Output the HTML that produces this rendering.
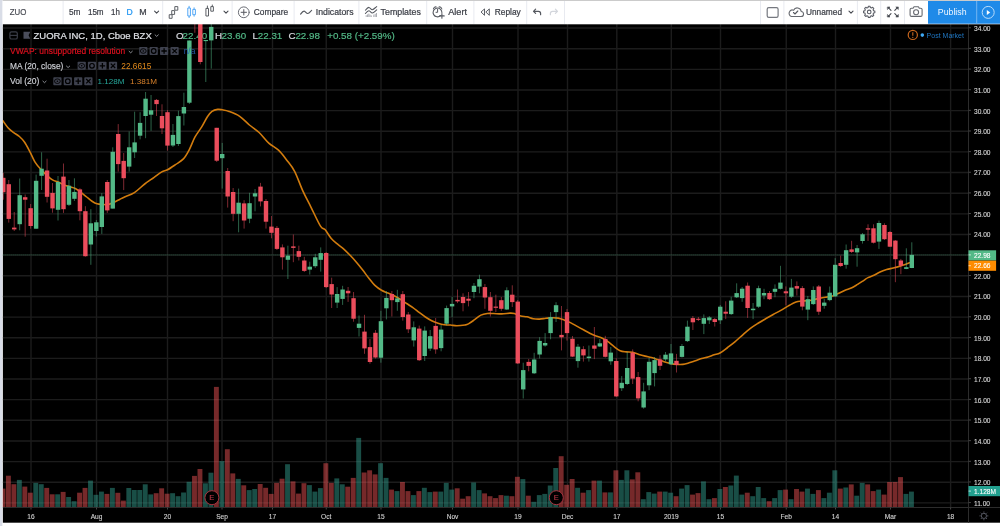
<!DOCTYPE html>
<html><head><meta charset="utf-8"><title>ZUO chart</title>
<style>
html,body{margin:0;padding:0;}
body{width:1000px;height:526px;overflow:hidden;position:relative;background:#ffffff;font-family:"Liberation Sans",Arial,sans-serif;}
svg text.pl{font-size:6.6px;fill:#d6d6d6;stroke:#d6d6d6;stroke-width:0.12px;font-family:"Liberation Sans",Arial,sans-serif;}
svg text.tl{font-size:6.6px;fill:#d0d0d0;stroke:#d0d0d0;stroke-width:0.12px;font-family:"Liberation Sans",Arial,sans-serif;}
#chart{position:absolute;left:0;top:0;display:block;}
</style></head><body>
<svg id="chart" width="1000" height="526" viewBox="0 0 1000 526">
<defs><clipPath id="cl"><rect x="2.6" y="24" width="965.9" height="483.5"/></clipPath></defs>
<rect x="2.6" y="24" width="997.4" height="498.70000000000005" fill="#000"/><line x1="2.6" y1="502.88" x2="968.5" y2="502.88" stroke="#1c1c1c" stroke-width="1.4"/><line x1="2.6" y1="482.24" x2="968.5" y2="482.24" stroke="#1c1c1c" stroke-width="1.4"/><line x1="2.6" y1="461.6" x2="968.5" y2="461.6" stroke="#1c1c1c" stroke-width="1.4"/><line x1="2.6" y1="440.95" x2="968.5" y2="440.95" stroke="#1c1c1c" stroke-width="1.4"/><line x1="2.6" y1="420.31" x2="968.5" y2="420.31" stroke="#1c1c1c" stroke-width="1.4"/><line x1="2.6" y1="399.66" x2="968.5" y2="399.66" stroke="#1c1c1c" stroke-width="1.4"/><line x1="2.6" y1="379.01" x2="968.5" y2="379.01" stroke="#1c1c1c" stroke-width="1.4"/><line x1="2.6" y1="358.37" x2="968.5" y2="358.37" stroke="#1c1c1c" stroke-width="1.4"/><line x1="2.6" y1="337.73" x2="968.5" y2="337.73" stroke="#1c1c1c" stroke-width="1.4"/><line x1="2.6" y1="317.08" x2="968.5" y2="317.08" stroke="#1c1c1c" stroke-width="1.4"/><line x1="2.6" y1="296.44" x2="968.5" y2="296.44" stroke="#1c1c1c" stroke-width="1.4"/><line x1="2.6" y1="275.79" x2="968.5" y2="275.79" stroke="#1c1c1c" stroke-width="1.4"/><line x1="2.6" y1="255.15" x2="968.5" y2="255.15" stroke="#1c1c1c" stroke-width="1.4"/><line x1="2.6" y1="234.5" x2="968.5" y2="234.5" stroke="#1c1c1c" stroke-width="1.4"/><line x1="2.6" y1="213.86" x2="968.5" y2="213.86" stroke="#1c1c1c" stroke-width="1.4"/><line x1="2.6" y1="193.21" x2="968.5" y2="193.21" stroke="#1c1c1c" stroke-width="1.4"/><line x1="2.6" y1="172.56" x2="968.5" y2="172.56" stroke="#1c1c1c" stroke-width="1.4"/><line x1="2.6" y1="151.92" x2="968.5" y2="151.92" stroke="#1c1c1c" stroke-width="1.4"/><line x1="2.6" y1="131.28" x2="968.5" y2="131.28" stroke="#1c1c1c" stroke-width="1.4"/><line x1="2.6" y1="110.63" x2="968.5" y2="110.63" stroke="#1c1c1c" stroke-width="1.4"/><line x1="2.6" y1="89.98" x2="968.5" y2="89.98" stroke="#1c1c1c" stroke-width="1.4"/><line x1="2.6" y1="69.34" x2="968.5" y2="69.34" stroke="#1c1c1c" stroke-width="1.4"/><line x1="2.6" y1="48.69" x2="968.5" y2="48.69" stroke="#1c1c1c" stroke-width="1.4"/><line x1="2.6" y1="28.05" x2="968.5" y2="28.05" stroke="#1c1c1c" stroke-width="1.4"/><line x1="31" y1="24" x2="31" y2="507.5" stroke="#1c1c1c" stroke-width="1.4"/><line x1="96.5" y1="24" x2="96.5" y2="507.5" stroke="#1c1c1c" stroke-width="1.4"/><line x1="167.5" y1="24" x2="167.5" y2="507.5" stroke="#1c1c1c" stroke-width="1.4"/><line x1="222" y1="24" x2="222" y2="507.5" stroke="#1c1c1c" stroke-width="1.4"/><line x1="272.5" y1="24" x2="272.5" y2="507.5" stroke="#1c1c1c" stroke-width="1.4"/><line x1="326.25" y1="24" x2="326.25" y2="507.5" stroke="#1c1c1c" stroke-width="1.4"/><line x1="381" y1="24" x2="381" y2="507.5" stroke="#1c1c1c" stroke-width="1.4"/><line x1="452.5" y1="24" x2="452.5" y2="507.5" stroke="#1c1c1c" stroke-width="1.4"/><line x1="518" y1="24" x2="518" y2="507.5" stroke="#1c1c1c" stroke-width="1.4"/><line x1="567.5" y1="24" x2="567.5" y2="507.5" stroke="#1c1c1c" stroke-width="1.4"/><line x1="616.8" y1="24" x2="616.8" y2="507.5" stroke="#1c1c1c" stroke-width="1.4"/><line x1="671.3" y1="24" x2="671.3" y2="507.5" stroke="#1c1c1c" stroke-width="1.4"/><line x1="720.5" y1="24" x2="720.5" y2="507.5" stroke="#1c1c1c" stroke-width="1.4"/><line x1="786.25" y1="24" x2="786.25" y2="507.5" stroke="#1c1c1c" stroke-width="1.4"/><line x1="835.5" y1="24" x2="835.5" y2="507.5" stroke="#1c1c1c" stroke-width="1.4"/><line x1="890.5" y1="24" x2="890.5" y2="507.5" stroke="#1c1c1c" stroke-width="1.4"/><line x1="950.6" y1="24" x2="950.6" y2="507.5" stroke="#1c1c1c" stroke-width="1.4"/><g><rect x="0.49" y="488.6" width="4.9" height="18.4" fill="rgba(236,82,84,0.5)"/><rect x="5.96" y="475.7" width="4.9" height="31.3" fill="rgba(236,82,84,0.5)"/><rect x="11.43" y="484.2" width="4.9" height="22.8" fill="rgba(236,82,84,0.5)"/><rect x="16.9" y="479.9" width="4.9" height="27.1" fill="rgba(50,156,140,0.5)"/><rect x="22.38" y="486.6" width="4.9" height="20.4" fill="rgba(236,82,84,0.5)"/><rect x="27.85" y="492.7" width="4.9" height="14.3" fill="rgba(236,82,84,0.5)"/><rect x="33.32" y="482.9" width="4.9" height="24.1" fill="rgba(50,156,140,0.5)"/><rect x="38.8" y="484.2" width="4.9" height="22.8" fill="rgba(50,156,140,0.5)"/><rect x="44.27" y="487.9" width="4.9" height="19.1" fill="rgba(236,82,84,0.5)"/><rect x="49.74" y="494.3" width="4.9" height="12.7" fill="rgba(236,82,84,0.5)"/><rect x="55.21" y="494.3" width="4.9" height="12.7" fill="rgba(50,156,140,0.5)"/><rect x="60.69" y="491.9" width="4.9" height="15.1" fill="rgba(236,82,84,0.5)"/><rect x="66.16" y="497" width="4.9" height="10" fill="rgba(50,156,140,0.5)"/><rect x="71.63" y="501.2" width="4.9" height="5.8" fill="rgba(50,156,140,0.5)"/><rect x="77.11" y="492.7" width="4.9" height="14.3" fill="rgba(236,82,84,0.5)"/><rect x="82.58" y="487.9" width="4.9" height="19.1" fill="rgba(236,82,84,0.5)"/><rect x="88.05" y="480.6" width="4.9" height="26.4" fill="rgba(50,156,140,0.5)"/><rect x="93.53" y="494.8" width="4.9" height="12.2" fill="rgba(50,156,140,0.5)"/><rect x="99" y="491.6" width="4.9" height="15.4" fill="rgba(50,156,140,0.5)"/><rect x="104.47" y="493.9" width="4.9" height="13.1" fill="rgba(236,82,84,0.5)"/><rect x="109.94" y="487.9" width="4.9" height="19.1" fill="rgba(50,156,140,0.5)"/><rect x="115.42" y="492.8" width="4.9" height="14.2" fill="rgba(236,82,84,0.5)"/><rect x="120.89" y="500.6" width="4.9" height="6.4" fill="rgba(236,82,84,0.5)"/><rect x="126.36" y="488" width="4.9" height="19" fill="rgba(50,156,140,0.5)"/><rect x="131.84" y="490" width="4.9" height="17" fill="rgba(50,156,140,0.5)"/><rect x="137.31" y="490" width="4.9" height="17" fill="rgba(50,156,140,0.5)"/><rect x="142.78" y="484.3" width="4.9" height="22.7" fill="rgba(50,156,140,0.5)"/><rect x="148.26" y="494.4" width="4.9" height="12.6" fill="rgba(50,156,140,0.5)"/><rect x="153.73" y="493.2" width="4.9" height="13.8" fill="rgba(236,82,84,0.5)"/><rect x="159.2" y="488.3" width="4.9" height="18.7" fill="rgba(236,82,84,0.5)"/><rect x="164.68" y="493.7" width="4.9" height="13.3" fill="rgba(236,82,84,0.5)"/><rect x="170.15" y="493.2" width="4.9" height="13.8" fill="rgba(50,156,140,0.5)"/><rect x="175.62" y="496.2" width="4.9" height="10.8" fill="rgba(50,156,140,0.5)"/><rect x="181.09" y="492.5" width="4.9" height="14.5" fill="rgba(50,156,140,0.5)"/><rect x="186.57" y="481.8" width="4.9" height="25.2" fill="rgba(50,156,140,0.5)"/><rect x="192.04" y="475.9" width="4.9" height="31.1" fill="rgba(236,82,84,0.5)"/><rect x="197.51" y="469" width="4.9" height="38" fill="rgba(236,82,84,0.5)"/><rect x="202.99" y="483.3" width="4.9" height="23.7" fill="rgba(50,156,140,0.5)"/><rect x="208.46" y="472.7" width="4.9" height="34.3" fill="rgba(50,156,140,0.5)"/><rect x="213.93" y="386.9" width="4.9" height="120.1" fill="rgba(236,82,84,0.5)"/><rect x="219.41" y="461.1" width="4.9" height="45.9" fill="rgba(50,156,140,0.5)"/><rect x="224.88" y="449.2" width="4.9" height="57.8" fill="rgba(236,82,84,0.5)"/><rect x="230.35" y="473.4" width="4.9" height="33.6" fill="rgba(236,82,84,0.5)"/><rect x="235.82" y="478.9" width="4.9" height="28.1" fill="rgba(50,156,140,0.5)"/><rect x="241.3" y="485.3" width="4.9" height="21.7" fill="rgba(236,82,84,0.5)"/><rect x="246.77" y="490.1" width="4.9" height="16.9" fill="rgba(50,156,140,0.5)"/><rect x="252.24" y="489" width="4.9" height="18" fill="rgba(50,156,140,0.5)"/><rect x="257.72" y="484" width="4.9" height="23" fill="rgba(236,82,84,0.5)"/><rect x="263.19" y="487.8" width="4.9" height="19.2" fill="rgba(236,82,84,0.5)"/><rect x="268.66" y="493.9" width="4.9" height="13.1" fill="rgba(236,82,84,0.5)"/><rect x="274.13" y="482.9" width="4.9" height="24.1" fill="rgba(236,82,84,0.5)"/><rect x="279.61" y="478.7" width="4.9" height="28.3" fill="rgba(236,82,84,0.5)"/><rect x="285.08" y="464.2" width="4.9" height="42.8" fill="rgba(50,156,140,0.5)"/><rect x="290.55" y="481.4" width="4.9" height="25.6" fill="rgba(236,82,84,0.5)"/><rect x="296.03" y="493.6" width="4.9" height="13.4" fill="rgba(236,82,84,0.5)"/><rect x="301.5" y="483.2" width="4.9" height="23.8" fill="rgba(236,82,84,0.5)"/><rect x="306.97" y="485.1" width="4.9" height="21.9" fill="rgba(50,156,140,0.5)"/><rect x="312.45" y="491.6" width="4.9" height="15.4" fill="rgba(50,156,140,0.5)"/><rect x="317.92" y="488.1" width="4.9" height="18.9" fill="rgba(50,156,140,0.5)"/><rect x="323.39" y="463.2" width="4.9" height="43.8" fill="rgba(236,82,84,0.5)"/><rect x="328.87" y="482.9" width="4.9" height="24.1" fill="rgba(236,82,84,0.5)"/><rect x="334.34" y="478.4" width="4.9" height="28.6" fill="rgba(50,156,140,0.5)"/><rect x="339.81" y="484.3" width="4.9" height="22.7" fill="rgba(50,156,140,0.5)"/><rect x="345.28" y="486.7" width="4.9" height="20.3" fill="rgba(236,82,84,0.5)"/><rect x="350.76" y="477.9" width="4.9" height="29.1" fill="rgba(236,82,84,0.5)"/><rect x="356.23" y="437.9" width="4.9" height="69.1" fill="rgba(50,156,140,0.5)"/><rect x="361.7" y="472.5" width="4.9" height="34.5" fill="rgba(236,82,84,0.5)"/><rect x="367.18" y="470.3" width="4.9" height="36.7" fill="rgba(236,82,84,0.5)"/><rect x="372.65" y="474.4" width="4.9" height="32.6" fill="rgba(236,82,84,0.5)"/><rect x="378.12" y="463.2" width="4.9" height="43.8" fill="rgba(50,156,140,0.5)"/><rect x="383.6" y="477.9" width="4.9" height="29.1" fill="rgba(50,156,140,0.5)"/><rect x="389.07" y="489.6" width="4.9" height="17.4" fill="rgba(236,82,84,0.5)"/><rect x="394.54" y="491.1" width="4.9" height="15.9" fill="rgba(50,156,140,0.5)"/><rect x="400.01" y="482" width="4.9" height="25" fill="rgba(236,82,84,0.5)"/><rect x="405.49" y="491.1" width="4.9" height="15.9" fill="rgba(236,82,84,0.5)"/><rect x="410.96" y="495.1" width="4.9" height="11.9" fill="rgba(50,156,140,0.5)"/><rect x="416.43" y="491.1" width="4.9" height="15.9" fill="rgba(236,82,84,0.5)"/><rect x="421.91" y="487.8" width="4.9" height="19.2" fill="rgba(50,156,140,0.5)"/><rect x="427.38" y="492.1" width="4.9" height="14.9" fill="rgba(50,156,140,0.5)"/><rect x="432.85" y="491.6" width="4.9" height="15.4" fill="rgba(236,82,84,0.5)"/><rect x="438.32" y="491.6" width="4.9" height="15.4" fill="rgba(50,156,140,0.5)"/><rect x="443.8" y="482.9" width="4.9" height="24.1" fill="rgba(50,156,140,0.5)"/><rect x="449.27" y="489.6" width="4.9" height="17.4" fill="rgba(50,156,140,0.5)"/><rect x="454.74" y="488.3" width="4.9" height="18.7" fill="rgba(236,82,84,0.5)"/><rect x="460.22" y="498.7" width="4.9" height="8.3" fill="rgba(236,82,84,0.5)"/><rect x="465.69" y="496.2" width="4.9" height="10.8" fill="rgba(236,82,84,0.5)"/><rect x="471.16" y="482.5" width="4.9" height="24.5" fill="rgba(50,156,140,0.5)"/><rect x="476.64" y="490.1" width="4.9" height="16.9" fill="rgba(50,156,140,0.5)"/><rect x="482.11" y="493.4" width="4.9" height="13.6" fill="rgba(236,82,84,0.5)"/><rect x="487.58" y="496.2" width="4.9" height="10.8" fill="rgba(236,82,84,0.5)"/><rect x="493.06" y="498.1" width="4.9" height="8.9" fill="rgba(236,82,84,0.5)"/><rect x="498.53" y="495.1" width="4.9" height="11.9" fill="rgba(236,82,84,0.5)"/><rect x="504" y="495.7" width="4.9" height="11.3" fill="rgba(50,156,140,0.5)"/><rect x="509.47" y="496.2" width="4.9" height="10.8" fill="rgba(236,82,84,0.5)"/><rect x="514.95" y="476.8" width="4.9" height="30.2" fill="rgba(236,82,84,0.5)"/><rect x="520.42" y="479.1" width="4.9" height="27.9" fill="rgba(50,156,140,0.5)"/><rect x="525.89" y="495.7" width="4.9" height="11.3" fill="rgba(236,82,84,0.5)"/><rect x="531.37" y="501.8" width="4.9" height="5.2" fill="rgba(50,156,140,0.5)"/><rect x="536.84" y="495.1" width="4.9" height="11.9" fill="rgba(50,156,140,0.5)"/><rect x="542.31" y="493.9" width="4.9" height="13.1" fill="rgba(50,156,140,0.5)"/><rect x="547.78" y="485.5" width="4.9" height="21.5" fill="rgba(50,156,140,0.5)"/><rect x="553.26" y="468" width="4.9" height="39" fill="rgba(50,156,140,0.5)"/><rect x="558.73" y="456.2" width="4.9" height="50.8" fill="rgba(236,82,84,0.5)"/><rect x="564.2" y="484.8" width="4.9" height="22.2" fill="rgba(236,82,84,0.5)"/><rect x="569.68" y="479" width="4.9" height="28" fill="rgba(236,82,84,0.5)"/><rect x="575.15" y="487.8" width="4.9" height="19.2" fill="rgba(50,156,140,0.5)"/><rect x="580.62" y="492.7" width="4.9" height="14.3" fill="rgba(236,82,84,0.5)"/><rect x="586.1" y="490.1" width="4.9" height="16.9" fill="rgba(50,156,140,0.5)"/><rect x="591.57" y="480.6" width="4.9" height="26.4" fill="rgba(236,82,84,0.5)"/><rect x="597.04" y="480.6" width="4.9" height="26.4" fill="rgba(50,156,140,0.5)"/><rect x="602.51" y="492.4" width="4.9" height="14.6" fill="rgba(236,82,84,0.5)"/><rect x="607.99" y="492.4" width="4.9" height="14.6" fill="rgba(50,156,140,0.5)"/><rect x="613.46" y="470.3" width="4.9" height="36.7" fill="rgba(236,82,84,0.5)"/><rect x="618.93" y="479.9" width="4.9" height="27.1" fill="rgba(50,156,140,0.5)"/><rect x="624.41" y="470.3" width="4.9" height="36.7" fill="rgba(50,156,140,0.5)"/><rect x="629.88" y="479.4" width="4.9" height="27.6" fill="rgba(236,82,84,0.5)"/><rect x="635.35" y="472.3" width="4.9" height="34.7" fill="rgba(236,82,84,0.5)"/><rect x="640.83" y="499.2" width="4.9" height="7.8" fill="rgba(50,156,140,0.5)"/><rect x="646.3" y="492.1" width="4.9" height="14.9" fill="rgba(50,156,140,0.5)"/><rect x="651.77" y="493.6" width="4.9" height="13.4" fill="rgba(50,156,140,0.5)"/><rect x="657.24" y="491.6" width="4.9" height="15.4" fill="rgba(236,82,84,0.5)"/><rect x="662.72" y="491.6" width="4.9" height="15.4" fill="rgba(50,156,140,0.5)"/><rect x="668.19" y="492.7" width="4.9" height="14.3" fill="rgba(50,156,140,0.5)"/><rect x="673.66" y="496.2" width="4.9" height="10.8" fill="rgba(236,82,84,0.5)"/><rect x="679.14" y="488.6" width="4.9" height="18.4" fill="rgba(50,156,140,0.5)"/><rect x="684.61" y="485.1" width="4.9" height="21.9" fill="rgba(50,156,140,0.5)"/><rect x="690.08" y="494.6" width="4.9" height="12.4" fill="rgba(236,82,84,0.5)"/><rect x="695.56" y="493.1" width="4.9" height="13.9" fill="rgba(236,82,84,0.5)"/><rect x="701.03" y="481.4" width="4.9" height="25.6" fill="rgba(50,156,140,0.5)"/><rect x="706.5" y="499.2" width="4.9" height="7.8" fill="rgba(50,156,140,0.5)"/><rect x="711.97" y="498.1" width="4.9" height="8.9" fill="rgba(236,82,84,0.5)"/><rect x="717.45" y="489" width="4.9" height="18" fill="rgba(50,156,140,0.5)"/><rect x="722.92" y="487" width="4.9" height="20" fill="rgba(236,82,84,0.5)"/><rect x="728.39" y="485.5" width="4.9" height="21.5" fill="rgba(50,156,140,0.5)"/><rect x="733.87" y="475.6" width="4.9" height="31.4" fill="rgba(50,156,140,0.5)"/><rect x="739.34" y="494.6" width="4.9" height="12.4" fill="rgba(50,156,140,0.5)"/><rect x="744.81" y="492.7" width="4.9" height="14.3" fill="rgba(236,82,84,0.5)"/><rect x="750.29" y="496.2" width="4.9" height="10.8" fill="rgba(50,156,140,0.5)"/><rect x="755.76" y="487" width="4.9" height="20" fill="rgba(50,156,140,0.5)"/><rect x="761.23" y="498.1" width="4.9" height="8.9" fill="rgba(50,156,140,0.5)"/><rect x="766.7" y="501.2" width="4.9" height="5.8" fill="rgba(236,82,84,0.5)"/><rect x="772.18" y="498.1" width="4.9" height="8.9" fill="rgba(50,156,140,0.5)"/><rect x="777.65" y="490.1" width="4.9" height="16.9" fill="rgba(50,156,140,0.5)"/><rect x="783.12" y="489.6" width="4.9" height="17.4" fill="rgba(236,82,84,0.5)"/><rect x="788.6" y="499.2" width="4.9" height="7.8" fill="rgba(50,156,140,0.5)"/><rect x="794.07" y="489" width="4.9" height="18" fill="rgba(236,82,84,0.5)"/><rect x="799.54" y="491.6" width="4.9" height="15.4" fill="rgba(236,82,84,0.5)"/><rect x="805.02" y="488.6" width="4.9" height="18.4" fill="rgba(50,156,140,0.5)"/><rect x="810.49" y="493.9" width="4.9" height="13.1" fill="rgba(50,156,140,0.5)"/><rect x="815.96" y="490.1" width="4.9" height="16.9" fill="rgba(236,82,84,0.5)"/><rect x="821.43" y="498.1" width="4.9" height="8.9" fill="rgba(50,156,140,0.5)"/><rect x="826.91" y="492.7" width="4.9" height="14.3" fill="rgba(50,156,140,0.5)"/><rect x="832.38" y="470.3" width="4.9" height="36.7" fill="rgba(50,156,140,0.5)"/><rect x="837.85" y="488.6" width="4.9" height="18.4" fill="rgba(236,82,84,0.5)"/><rect x="843.33" y="487.5" width="4.9" height="19.5" fill="rgba(50,156,140,0.5)"/><rect x="848.8" y="484.4" width="4.9" height="22.6" fill="rgba(236,82,84,0.5)"/><rect x="854.27" y="495.7" width="4.9" height="11.3" fill="rgba(50,156,140,0.5)"/><rect x="859.75" y="482.9" width="4.9" height="24.1" fill="rgba(50,156,140,0.5)"/><rect x="865.22" y="484.4" width="4.9" height="22.6" fill="rgba(236,82,84,0.5)"/><rect x="870.69" y="491.1" width="4.9" height="15.9" fill="rgba(236,82,84,0.5)"/><rect x="876.16" y="489.6" width="4.9" height="17.4" fill="rgba(50,156,140,0.5)"/><rect x="881.64" y="494.6" width="4.9" height="12.4" fill="rgba(236,82,84,0.5)"/><rect x="887.11" y="482" width="4.9" height="25" fill="rgba(236,82,84,0.5)"/><rect x="892.58" y="482" width="4.9" height="25" fill="rgba(236,82,84,0.5)"/><rect x="898.06" y="477.1" width="4.9" height="29.9" fill="rgba(236,82,84,0.5)"/><rect x="903.53" y="493.9" width="4.9" height="13.1" fill="rgba(50,156,140,0.5)"/><rect x="909" y="491.6" width="4.9" height="15.4" fill="rgba(50,156,140,0.5)"/></g><circle cx="211.9" cy="497.7" r="7" fill="#000" stroke="#a8333f" stroke-width="1"/><text x="211.9" y="499.8" font-size="7.6" fill="#c23a4b" stroke="#c23a4b" stroke-width="0.1" text-anchor="middle" font-family="Liberation Sans, sans-serif">E</text><circle cx="556.3" cy="497.7" r="7" fill="#000" stroke="#a8333f" stroke-width="1"/><text x="556.3" y="499.8" font-size="7.6" fill="#c23a4b" stroke="#c23a4b" stroke-width="0.1" text-anchor="middle" font-family="Liberation Sans, sans-serif">E</text><line x1="2.6" y1="254.9" x2="968.5" y2="254.9" stroke="#53b987" stroke-width="1" stroke-dasharray="1 1" opacity="0.5"/><path d="M2.7 120.5 C3.58 121.72 6.17 125.78 8 127.8 C9.83 129.82 11.8 131.15 13.7 132.6 C15.6 134.05 17.58 134.9 19.4 136.5 C21.22 138.1 22.88 139.73 24.6 142.2 C26.32 144.67 27.9 147.88 29.7 151.3 C31.5 154.72 33.5 159.65 35.4 162.7 C37.3 165.75 39.2 167.5 41.1 169.6 C43 171.7 44.9 173.58 46.8 175.3 C48.7 177.02 50.6 178.77 52.5 179.9 C54.4 181.03 56.3 181.27 58.2 182.1 C60.1 182.93 62 184.13 63.9 184.9 C65.8 185.67 67.7 186.1 69.6 186.7 C71.5 187.3 73.4 187.55 75.3 188.5 C77.2 189.45 79.1 190.98 81 192.4 C82.9 193.82 84.8 195.48 86.7 197 C88.6 198.52 90.68 200.37 92.4 201.5 C94.12 202.63 95.28 203.3 97 203.8 C98.72 204.3 100.8 204.38 102.7 204.5 C104.6 204.62 106.5 204.88 108.4 204.5 C110.3 204.12 112.17 203.08 114.1 202.2 C116.03 201.32 118.33 200.03 120 199.2 C121.67 198.37 121.7 198.3 124.1 197.2 C126.5 196.1 130.97 194.8 134.4 192.6 C137.83 190.4 141.47 186.5 144.7 184 C147.93 181.5 150.95 179.62 153.8 177.6 C156.65 175.58 159.52 173.2 161.8 171.9 C164.08 170.6 165.22 171.02 167.5 169.8 C169.78 168.58 172.85 166.42 175.5 164.6 C178.15 162.78 181.12 161.37 183.4 158.9 C185.68 156.43 187.28 153.42 189.2 149.8 C191.12 146.18 192.82 141.02 194.9 137.2 C196.98 133.38 199.62 130.32 201.7 126.9 C203.78 123.48 205.68 119.28 207.4 116.7 C209.12 114.12 210.28 112.62 212 111.4 C213.72 110.18 216 109.67 217.7 109.4 C219.4 109.13 220.3 109.47 222.2 109.8 C224.1 110.13 226.18 110.32 229.1 111.4 C232.02 112.48 236.32 114.03 239.7 116.3 C243.08 118.57 246.17 122.3 249.4 125 C252.63 127.7 255.87 129.48 259.1 132.5 C262.33 135.52 265.57 140.15 268.8 143.1 C272.03 146.05 275.53 147.4 278.5 150.2 C281.47 153 283.92 156.38 286.6 159.9 C289.28 163.42 291.92 166.18 294.6 171.3 C297.28 176.42 300 184.68 302.7 190.6 C305.4 196.52 307.83 200.87 310.8 206.8 C313.77 212.73 318.13 222.4 320.5 226.2 C322.87 230 323.2 227.53 325 229.6 C326.8 231.67 329.2 236.17 331.3 238.6 C333.4 241.03 335.52 242.45 337.6 244.2 C339.68 245.95 341.72 247.25 343.8 249.1 C345.88 250.95 348 253.12 350.1 255.3 C352.2 257.48 354.3 259.75 356.4 262.2 C358.5 264.65 360.62 267.32 362.7 270 C364.78 272.68 366.82 275.68 368.9 278.3 C370.98 280.92 373.1 283.7 375.2 285.7 C377.3 287.7 379.4 289.08 381.5 290.3 C383.6 291.52 385.72 292.1 387.8 293 C389.88 293.9 391.92 294.65 394 295.7 C396.08 296.75 398.2 298 400.3 299.3 C402.4 300.6 404.5 302.12 406.6 303.5 C408.7 304.88 410.82 306.12 412.9 307.6 C414.98 309.08 417.02 310.83 419.1 312.4 C421.18 313.97 423.3 315.6 425.4 317 C427.5 318.4 429.6 319.75 431.7 320.8 C433.8 321.85 435.92 322.63 438 323.3 C440.08 323.97 442.12 324.52 444.2 324.8 C446.28 325.08 448.4 324.83 450.5 325 C452.6 325.17 454.38 325.8 456.8 325.8 C459.22 325.8 463.07 325.32 465 325 C466.93 324.68 466.8 324.78 468.4 323.9 C470 323.02 472.52 321.17 474.6 319.7 C476.68 318.23 478.8 316.13 480.9 315.1 C483 314.07 485.1 313.77 487.2 313.5 C489.3 313.23 491.07 313.43 493.5 313.5 C495.93 313.57 499.02 313.97 501.8 313.9 C504.58 313.83 508.1 313.17 510.2 313.1 C512.3 313.03 512.65 313.02 514.4 313.5 C516.15 313.98 518.62 315.45 520.7 316 C522.78 316.55 524.82 316.35 526.9 316.8 C528.98 317.25 531.1 318.32 533.2 318.7 C535.3 319.08 537.4 319.17 539.5 319.1 C541.6 319.03 543.72 318.53 545.8 318.3 C547.88 318.07 549.92 317.73 552 317.7 C554.08 317.67 556.2 317.68 558.3 318.1 C560.4 318.52 562.5 319.4 564.6 320.2 C566.7 321 568.8 321.87 570.9 322.9 C573 323.93 575.12 325.25 577.2 326.4 C579.28 327.55 581.32 328.65 583.4 329.8 C585.48 330.95 587.6 332.25 589.7 333.3 C591.8 334.35 594.07 335.37 596 336.1 C597.93 336.83 599.37 336.82 601.3 337.7 C603.23 338.58 605.52 339.95 607.6 341.4 C609.68 342.85 611.72 344.83 613.8 346.4 C615.88 347.97 618 349.88 620.1 350.8 C622.2 351.72 624.3 351.65 626.4 351.9 C628.5 352.15 630.62 351.88 632.7 352.3 C634.78 352.72 636.82 353.77 638.9 354.4 C640.98 355.03 643.1 355.58 645.2 356.1 C647.3 356.62 649.4 356.92 651.5 357.5 C653.6 358.08 655.72 358.9 657.8 359.6 C659.88 360.3 661.92 361.07 664 361.7 C666.08 362.33 668.2 362.95 670.3 363.4 C672.4 363.85 674.5 364.23 676.6 364.4 C678.7 364.57 680.82 364.67 682.9 364.4 C684.98 364.13 687.02 363.42 689.1 362.8 C691.18 362.18 693.3 361.4 695.4 360.7 C697.5 360 699.6 359.23 701.7 358.6 C703.8 357.97 705.92 357.53 708 356.9 C710.08 356.27 712.2 355.45 714.2 354.8 C716.2 354.15 717.77 354.22 720 353 C722.23 351.78 725.07 349.4 727.6 347.5 C730.13 345.6 732.67 343.72 735.2 341.6 C737.73 339.48 740.27 337 742.8 334.8 C745.33 332.6 747.87 330.32 750.4 328.4 C752.93 326.48 755.47 324.9 758 323.3 C760.53 321.7 763.07 320.27 765.6 318.8 C768.13 317.33 770.67 315.9 773.2 314.5 C775.73 313.1 778.27 311.83 780.8 310.4 C783.33 308.97 785.87 307.28 788.4 305.9 C790.93 304.52 793.88 302.9 796 302.1 C798.12 301.3 799.2 301.33 801.1 301.1 C803 300.87 805.3 300.95 807.4 300.7 C809.5 300.45 811.6 300.02 813.7 299.6 C815.8 299.18 817.92 298.62 820 298.2 C822.08 297.78 824.12 297.45 826.2 297.1 C828.28 296.75 830.4 296.73 832.5 296.1 C834.6 295.47 836.7 294.28 838.8 293.3 C840.9 292.32 843.02 291.07 845.1 290.2 C847.18 289.33 849.22 289.07 851.3 288.1 C853.38 287.13 855.5 285.7 857.6 284.4 C859.7 283.1 862.17 281.43 863.9 280.3 C865.63 279.17 866.43 278.38 868 277.6 C869.57 276.82 871.3 276.53 873.3 275.6 C875.3 274.67 877.78 273 880 272 C882.22 271 884.38 270.27 886.6 269.6 C888.82 268.93 891.08 268.57 893.3 268 C895.52 267.43 897.92 266.78 899.9 266.2 C901.88 265.62 903.43 265.13 905.2 264.5 C906.97 263.87 909.62 262.75 910.5 262.4" fill="none" stroke="#d27c0e" stroke-width="1.6" stroke-linejoin="round"/><g id="legend" font-family="Liberation Sans, Arial, sans-serif">
<rect x="9.9" y="31.8" width="7.4" height="7.2" rx="1.6" fill="none" stroke="#3b3e48" stroke-width="1.2"/>
<line x1="9.9" y1="35.4" x2="17.3" y2="35.4" stroke="#3b3e48" stroke-width="1.1"/>
<path d="M23.5 31.8 h6.8 l-1.7 3.5 l1.7 3.5 h-6.8 z" fill="#4a4d5b"/>
<text x="33.5" y="38.7" font-size="9.5" fill="#dfe1e6" stroke="#dfe1e6" stroke-width="0.2">ZUORA INC, 1D, Cboe BZX</text>
<path d="M154.8 34.6 l1.9 1.8 l1.9 -1.8" fill="none" stroke="#9a9ca3" stroke-width="0.9"/>
<g font-size="9.8" stroke-width="0.2">
<text x="175.9" y="38.8" fill="#d6d8de" stroke="#d6d8de">O</text><text x="182.6" y="38.8" fill="#53b987" stroke="#53b987">22.40</text>
<text x="214.9" y="38.8" fill="#d6d8de" stroke="#d6d8de">H</text><text x="221.6" y="38.8" fill="#53b987" stroke="#53b987">23.60</text>
<text x="252.6" y="38.8" fill="#d6d8de" stroke="#d6d8de">L</text><text x="257.8" y="38.8" fill="#53b987" stroke="#53b987">22.31</text>
<text x="288.6" y="38.8" fill="#d6d8de" stroke="#d6d8de">C</text><text x="295.4" y="38.8" fill="#53b987" stroke="#53b987">22.98</text>
<text x="327.2" y="38.8" fill="#53b987" stroke="#53b987">+0.58 (+2.59%)</text>
</g>
<text x="10.1" y="54" font-size="8.4" fill="#dc101e" stroke="#dc101e" stroke-width="0.2" textLength="115" lengthAdjust="spacingAndGlyphs">VWAP: unsupported resolution</text>
<path d="M128.8 51 l1.9 1.8 l1.9 -1.8" fill="none" stroke="#9a9ca3" stroke-width="0.9"/>
<text x="10" y="68.9" font-size="8.3" fill="#d0d2d8" stroke="#d0d2d8" stroke-width="0.15" textLength="53.4" lengthAdjust="spacingAndGlyphs">MA (20, close)</text>
<path d="M66.2 65.8 l1.9 1.8 l1.9 -1.8" fill="none" stroke="#9a9ca3" stroke-width="0.9"/>
<text x="121.3" y="69" font-size="8.3" fill="#e38b1c">22.6615</text>
<text x="10" y="84" font-size="8.3" fill="#d0d2d8" stroke="#d0d2d8" stroke-width="0.15" textLength="29.4" lengthAdjust="spacingAndGlyphs">Vol (20)</text>
<path d="M42.6 80.9 l1.9 1.8 l1.9 -1.8" fill="none" stroke="#9a9ca3" stroke-width="0.9"/>
<text x="97.5" y="84.1" font-size="8.1" fill="#26a69a">1.128M</text>
<text x="130.1" y="84.1" font-size="8.1" fill="#d9822b">1.381M</text>
<rect x="139.2" y="47" width="8.2" height="8" rx="0.8" fill="#3e414e"/><ellipse cx="143.3" cy="51" rx="2.9" ry="2.3" fill="none" stroke="#000" stroke-width="0.9"/><circle cx="143.3" cy="51" r="0.8" fill="#000"/><rect x="149.6" y="47" width="8.2" height="8" rx="0.8" fill="#3e414e"/><circle cx="153.7" cy="51" r="2.3" fill="none" stroke="#000" stroke-width="1.2"/><rect x="160" y="47" width="8.2" height="8" rx="0.8" fill="#3e414e"/><path d="M164.1 48.3 v5.4 M161.4 51 h5.4" stroke="#000" stroke-width="1.3"/><rect x="170.5" y="47" width="8.2" height="8" rx="0.8" fill="#3e414e"/><path d="M172.4 48.8 l4.4 4.4 M176.8 48.8 l-4.4 4.4" stroke="#000" stroke-width="1.2"/><rect x="77.6" y="61.8" width="8.2" height="8" rx="0.8" fill="#3e414e"/><ellipse cx="81.7" cy="65.8" rx="2.9" ry="2.3" fill="none" stroke="#000" stroke-width="0.9"/><circle cx="81.7" cy="65.8" r="0.8" fill="#000"/><rect x="87.9" y="61.8" width="8.2" height="8" rx="0.8" fill="#3e414e"/><circle cx="92" cy="65.8" r="2.3" fill="none" stroke="#000" stroke-width="1.2"/><rect x="98.3" y="61.8" width="8.2" height="8" rx="0.8" fill="#3e414e"/><path d="M102.4 63.1 v5.4 M99.7 65.8 h5.4" stroke="#000" stroke-width="1.3"/><rect x="108.9" y="61.8" width="8.2" height="8" rx="0.8" fill="#3e414e"/><path d="M110.8 63.6 l4.4 4.4 M115.2 63.6 l-4.4 4.4" stroke="#000" stroke-width="1.2"/><rect x="53.3" y="77.2" width="8.2" height="8" rx="0.8" fill="#3e414e"/><ellipse cx="57.4" cy="81.2" rx="2.9" ry="2.3" fill="none" stroke="#000" stroke-width="0.9"/><circle cx="57.4" cy="81.2" r="0.8" fill="#000"/><rect x="63.7" y="77.2" width="8.2" height="8" rx="0.8" fill="#3e414e"/><circle cx="67.8" cy="81.2" r="2.3" fill="none" stroke="#000" stroke-width="1.2"/><rect x="74.1" y="77.2" width="8.2" height="8" rx="0.8" fill="#3e414e"/><path d="M78.2 78.5 v5.4 M75.5 81.2 h5.4" stroke="#000" stroke-width="1.3"/><rect x="84.3" y="77.2" width="8.2" height="8" rx="0.8" fill="#3e414e"/><path d="M86.2 79 l4.4 4.4 M90.6 79 l-4.4 4.4" stroke="#000" stroke-width="1.2"/>
</g>
<g clip-path="url(#cl)"><line x1="3.29" y1="172.8" x2="3.29" y2="199.7" stroke="#eb4d5c" stroke-width="0.9" opacity="0.6"/><rect x="1.09" y="177.8" width="4.4" height="14.4" fill="#eb4d5c"/><line x1="8.76" y1="180" x2="8.76" y2="222.6" stroke="#eb4d5c" stroke-width="0.9" opacity="0.6"/><rect x="6.56" y="184.2" width="4.4" height="34.7" fill="#eb4d5c"/><line x1="14.23" y1="212" x2="14.23" y2="231" stroke="#eb4d5c" stroke-width="0.9" opacity="0.6"/><rect x="12.03" y="227.6" width="4.4" height="1.8" fill="#eb4d5c"/><line x1="19.7" y1="178.5" x2="19.7" y2="230.3" stroke="#53b987" stroke-width="0.9" opacity="0.6"/><rect x="17.5" y="195.2" width="4.4" height="29" fill="#53b987"/><line x1="25.18" y1="194.5" x2="25.18" y2="236.7" stroke="#eb4d5c" stroke-width="0.9" opacity="0.6"/><rect x="22.98" y="197.2" width="4.4" height="2.5" fill="#eb4d5c"/><line x1="30.65" y1="204" x2="30.65" y2="228.7" stroke="#eb4d5c" stroke-width="0.9" opacity="0.6"/><rect x="28.45" y="208.2" width="4.4" height="17.8" fill="#eb4d5c"/><line x1="36.12" y1="174.6" x2="36.12" y2="228.7" stroke="#53b987" stroke-width="0.9" opacity="0.6"/><rect x="33.92" y="180.8" width="4.4" height="47.9" fill="#53b987"/><line x1="41.6" y1="152.3" x2="41.6" y2="190" stroke="#53b987" stroke-width="0.9" opacity="0.6"/><rect x="39.4" y="168.7" width="4.4" height="7.1" fill="#53b987"/><line x1="47.07" y1="158.7" x2="47.07" y2="202.5" stroke="#eb4d5c" stroke-width="0.9" opacity="0.6"/><rect x="44.87" y="170.5" width="4.4" height="26.3" fill="#eb4d5c"/><line x1="52.54" y1="183" x2="52.54" y2="212.7" stroke="#eb4d5c" stroke-width="0.9" opacity="0.6"/><rect x="50.34" y="192.9" width="4.4" height="15.5" fill="#eb4d5c"/><line x1="58.01" y1="176" x2="58.01" y2="220.5" stroke="#53b987" stroke-width="0.9" opacity="0.6"/><rect x="55.81" y="182" width="4.4" height="27.8" fill="#53b987"/><line x1="63.49" y1="163.5" x2="63.49" y2="212.9" stroke="#eb4d5c" stroke-width="0.9" opacity="0.6"/><rect x="61.29" y="176.6" width="4.4" height="32.6" fill="#eb4d5c"/><line x1="68.96" y1="180" x2="68.96" y2="206" stroke="#53b987" stroke-width="0.9" opacity="0.6"/><rect x="66.76" y="185.7" width="4.4" height="19.1" fill="#53b987"/><line x1="74.43" y1="178.3" x2="74.43" y2="201" stroke="#53b987" stroke-width="0.9" opacity="0.6"/><rect x="72.23" y="191.9" width="4.4" height="6.9" fill="#53b987"/><line x1="79.91" y1="188.2" x2="79.91" y2="220.3" stroke="#eb4d5c" stroke-width="0.9" opacity="0.6"/><rect x="77.71" y="189.4" width="4.4" height="21.8" fill="#eb4d5c"/><line x1="85.38" y1="206.2" x2="85.38" y2="256.7" stroke="#eb4d5c" stroke-width="0.9" opacity="0.6"/><rect x="83.18" y="211.2" width="4.4" height="45" fill="#eb4d5c"/><line x1="90.85" y1="209.2" x2="90.85" y2="264.8" stroke="#53b987" stroke-width="0.9" opacity="0.6"/><rect x="88.65" y="223.3" width="4.4" height="21.2" fill="#53b987"/><line x1="96.33" y1="220" x2="96.33" y2="236.4" stroke="#53b987" stroke-width="0.9" opacity="0.6"/><rect x="94.13" y="222.3" width="4.4" height="8.7" fill="#53b987"/><line x1="101.8" y1="193.1" x2="101.8" y2="233.9" stroke="#53b987" stroke-width="0.9" opacity="0.6"/><rect x="99.6" y="196.4" width="4.4" height="30.6" fill="#53b987"/><line x1="107.27" y1="180" x2="107.27" y2="212.9" stroke="#eb4d5c" stroke-width="0.9" opacity="0.6"/><rect x="105.07" y="182" width="4.4" height="28.4" fill="#eb4d5c"/><line x1="112.75" y1="147.3" x2="112.75" y2="208.6" stroke="#53b987" stroke-width="0.9" opacity="0.6"/><rect x="110.55" y="151.8" width="4.4" height="56.8" fill="#53b987"/><line x1="118.22" y1="124.1" x2="118.22" y2="171.6" stroke="#eb4d5c" stroke-width="0.9" opacity="0.6"/><rect x="116.02" y="134" width="4.4" height="30.1" fill="#eb4d5c"/><line x1="123.69" y1="153" x2="123.69" y2="190.1" stroke="#eb4d5c" stroke-width="0.9" opacity="0.6"/><rect x="121.49" y="160.9" width="4.4" height="17.3" fill="#eb4d5c"/><line x1="129.16" y1="131.5" x2="129.16" y2="171.6" stroke="#53b987" stroke-width="0.9" opacity="0.6"/><rect x="126.96" y="147.3" width="4.4" height="19.3" fill="#53b987"/><line x1="134.64" y1="111.7" x2="134.64" y2="158" stroke="#53b987" stroke-width="0.9" opacity="0.6"/><rect x="132.44" y="142.4" width="4.4" height="9.9" fill="#53b987"/><line x1="140.11" y1="112.2" x2="140.11" y2="139.4" stroke="#53b987" stroke-width="0.9" opacity="0.6"/><rect x="137.91" y="122.9" width="4.4" height="12.8" fill="#53b987"/><line x1="145.58" y1="92" x2="145.58" y2="138.2" stroke="#53b987" stroke-width="0.9" opacity="0.6"/><rect x="143.38" y="98.7" width="4.4" height="17.3" fill="#53b987"/><line x1="151.06" y1="95" x2="151.06" y2="130.8" stroke="#53b987" stroke-width="0.9" opacity="0.6"/><rect x="148.86" y="110.3" width="4.4" height="4.4" fill="#53b987"/><line x1="156.53" y1="99" x2="156.53" y2="116" stroke="#eb4d5c" stroke-width="0.9" opacity="0.6"/><rect x="154.33" y="99.9" width="4.4" height="4.2" fill="#eb4d5c"/><line x1="162" y1="104.3" x2="162" y2="134" stroke="#eb4d5c" stroke-width="0.9" opacity="0.6"/><rect x="159.8" y="116" width="4.4" height="12.3" fill="#eb4d5c"/><line x1="167.47" y1="110" x2="167.47" y2="150.6" stroke="#eb4d5c" stroke-width="0.9" opacity="0.6"/><rect x="165.28" y="112.2" width="4.4" height="33.4" fill="#eb4d5c"/><line x1="172.95" y1="124" x2="172.95" y2="147" stroke="#53b987" stroke-width="0.9" opacity="0.6"/><rect x="170.75" y="134.9" width="4.4" height="10.6" fill="#53b987"/><line x1="178.42" y1="110.7" x2="178.42" y2="146" stroke="#53b987" stroke-width="0.9" opacity="0.6"/><rect x="176.22" y="116.1" width="4.4" height="27.9" fill="#53b987"/><line x1="183.89" y1="92.7" x2="183.89" y2="125.5" stroke="#53b987" stroke-width="0.9" opacity="0.6"/><rect x="181.69" y="107" width="4.4" height="6.5" fill="#53b987"/><line x1="189.37" y1="40.5" x2="189.37" y2="104" stroke="#53b987" stroke-width="0.9" opacity="0.6"/><rect x="187.17" y="40.5" width="4.4" height="62.2" fill="#53b987"/><line x1="194.84" y1="5" x2="194.84" y2="32.8" stroke="#eb4d5c" stroke-width="0.9" opacity="0.6"/><rect x="192.64" y="5" width="4.4" height="10" fill="#eb4d5c"/><line x1="200.31" y1="10" x2="200.31" y2="64.3" stroke="#eb4d5c" stroke-width="0.9" opacity="0.6"/><rect x="198.11" y="15" width="4.4" height="47" fill="#eb4d5c"/><line x1="205.79" y1="40" x2="205.79" y2="82" stroke="#53b987" stroke-width="0.9" opacity="0.6"/><rect x="203.59" y="40" width="4.4" height="1.1" fill="#53b987"/><line x1="211.26" y1="22" x2="211.26" y2="68.6" stroke="#53b987" stroke-width="0.9" opacity="0.6"/><rect x="209.06" y="26.9" width="4.4" height="13.5" fill="#53b987"/><line x1="216.73" y1="127.8" x2="216.73" y2="162" stroke="#eb4d5c" stroke-width="0.9" opacity="0.6"/><rect x="214.53" y="127.8" width="4.4" height="32.9" fill="#eb4d5c"/><line x1="222.21" y1="142.9" x2="222.21" y2="188.6" stroke="#53b987" stroke-width="0.9" opacity="0.6"/><rect x="220.01" y="154" width="4.4" height="4.2" fill="#53b987"/><line x1="227.68" y1="168" x2="227.68" y2="207.6" stroke="#eb4d5c" stroke-width="0.9" opacity="0.6"/><rect x="225.48" y="171" width="4.4" height="25.5" fill="#eb4d5c"/><line x1="233.15" y1="188" x2="233.15" y2="221.2" stroke="#eb4d5c" stroke-width="0.9" opacity="0.6"/><rect x="230.95" y="192" width="4.4" height="21.8" fill="#eb4d5c"/><line x1="238.62" y1="188.6" x2="238.62" y2="232.3" stroke="#53b987" stroke-width="0.9" opacity="0.6"/><rect x="236.42" y="202.7" width="4.4" height="11.1" fill="#53b987"/><line x1="244.1" y1="200.2" x2="244.1" y2="228.6" stroke="#eb4d5c" stroke-width="0.9" opacity="0.6"/><rect x="241.9" y="203.4" width="4.4" height="17.1" fill="#eb4d5c"/><line x1="249.57" y1="192.8" x2="249.57" y2="223.2" stroke="#53b987" stroke-width="0.9" opacity="0.6"/><rect x="247.37" y="203.2" width="4.4" height="15.5" fill="#53b987"/><line x1="255.04" y1="189" x2="255.04" y2="211.3" stroke="#53b987" stroke-width="0.9" opacity="0.6"/><rect x="252.84" y="193.3" width="4.4" height="3.2" fill="#53b987"/><line x1="260.52" y1="182.9" x2="260.52" y2="206.4" stroke="#eb4d5c" stroke-width="0.9" opacity="0.6"/><rect x="258.32" y="186.6" width="4.4" height="14.8" fill="#eb4d5c"/><line x1="265.99" y1="199" x2="265.99" y2="228.6" stroke="#eb4d5c" stroke-width="0.9" opacity="0.6"/><rect x="263.79" y="201" width="4.4" height="20.7" fill="#eb4d5c"/><line x1="271.46" y1="216" x2="271.46" y2="238.3" stroke="#eb4d5c" stroke-width="0.9" opacity="0.6"/><rect x="269.26" y="226.6" width="4.4" height="6.2" fill="#eb4d5c"/><line x1="276.93" y1="226" x2="276.93" y2="250" stroke="#eb4d5c" stroke-width="0.9" opacity="0.6"/><rect x="274.73" y="227.9" width="4.4" height="21" fill="#eb4d5c"/><line x1="282.41" y1="244.4" x2="282.41" y2="269.6" stroke="#eb4d5c" stroke-width="0.9" opacity="0.6"/><rect x="280.21" y="247.4" width="4.4" height="9.9" fill="#eb4d5c"/><line x1="287.88" y1="245.7" x2="287.88" y2="279" stroke="#53b987" stroke-width="0.9" opacity="0.6"/><rect x="285.68" y="255.6" width="4.4" height="4.2" fill="#53b987"/><line x1="293.35" y1="234.5" x2="293.35" y2="262.2" stroke="#eb4d5c" stroke-width="0.9" opacity="0.6"/><rect x="291.15" y="246.4" width="4.4" height="1.5" fill="#eb4d5c"/><line x1="298.83" y1="245.7" x2="298.83" y2="260.5" stroke="#eb4d5c" stroke-width="0.9" opacity="0.6"/><rect x="296.63" y="251.1" width="4.4" height="5.7" fill="#eb4d5c"/><line x1="304.3" y1="256.8" x2="304.3" y2="272" stroke="#eb4d5c" stroke-width="0.9" opacity="0.6"/><rect x="302.1" y="260.5" width="4.4" height="10.4" fill="#eb4d5c"/><line x1="309.77" y1="261.7" x2="309.77" y2="274.6" stroke="#53b987" stroke-width="0.9" opacity="0.6"/><rect x="307.57" y="266.7" width="4.4" height="2.9" fill="#53b987"/><line x1="315.25" y1="253.8" x2="315.25" y2="267.9" stroke="#53b987" stroke-width="0.9" opacity="0.6"/><rect x="313.05" y="257.3" width="4.4" height="8.9" fill="#53b987"/><line x1="320.72" y1="247.4" x2="320.72" y2="271.6" stroke="#53b987" stroke-width="0.9" opacity="0.6"/><rect x="318.52" y="253.1" width="4.4" height="6.7" fill="#53b987"/><line x1="326.19" y1="252" x2="326.19" y2="288" stroke="#eb4d5c" stroke-width="0.9" opacity="0.6"/><rect x="323.99" y="253" width="4.4" height="34.1" fill="#eb4d5c"/><line x1="331.66" y1="277.7" x2="331.66" y2="308" stroke="#eb4d5c" stroke-width="0.9" opacity="0.6"/><rect x="329.46" y="284.1" width="4.4" height="10.4" fill="#eb4d5c"/><line x1="337.14" y1="287.1" x2="337.14" y2="308" stroke="#53b987" stroke-width="0.9" opacity="0.6"/><rect x="334.94" y="294" width="4.4" height="8.6" fill="#53b987"/><line x1="342.61" y1="285.8" x2="342.61" y2="304.9" stroke="#53b987" stroke-width="0.9" opacity="0.6"/><rect x="340.41" y="289.5" width="4.4" height="9.4" fill="#53b987"/><line x1="348.08" y1="287" x2="348.08" y2="301.9" stroke="#eb4d5c" stroke-width="0.9" opacity="0.6"/><rect x="345.88" y="290.8" width="4.4" height="2.5" fill="#eb4d5c"/><line x1="353.56" y1="292" x2="353.56" y2="321.7" stroke="#eb4d5c" stroke-width="0.9" opacity="0.6"/><rect x="351.36" y="298.2" width="4.4" height="20.5" fill="#eb4d5c"/><line x1="359.03" y1="315.5" x2="359.03" y2="336.5" stroke="#53b987" stroke-width="0.9" opacity="0.6"/><rect x="356.83" y="323.7" width="4.4" height="4.2" fill="#53b987"/><line x1="364.5" y1="314.8" x2="364.5" y2="353.8" stroke="#eb4d5c" stroke-width="0.9" opacity="0.6"/><rect x="362.3" y="331.6" width="4.4" height="16.8" fill="#eb4d5c"/><line x1="369.98" y1="339" x2="369.98" y2="363.7" stroke="#eb4d5c" stroke-width="0.9" opacity="0.6"/><rect x="367.78" y="347.1" width="4.4" height="14.9" fill="#eb4d5c"/><line x1="375.45" y1="330" x2="375.45" y2="358.5" stroke="#eb4d5c" stroke-width="0.9" opacity="0.6"/><rect x="373.25" y="332.8" width="4.4" height="24.7" fill="#eb4d5c"/><line x1="380.92" y1="310.8" x2="380.92" y2="362.7" stroke="#53b987" stroke-width="0.9" opacity="0.6"/><rect x="378.72" y="321.2" width="4.4" height="36.5" fill="#53b987"/><line x1="386.39" y1="291" x2="386.39" y2="319.4" stroke="#53b987" stroke-width="0.9" opacity="0.6"/><rect x="384.19" y="297.9" width="4.4" height="10.4" fill="#53b987"/><line x1="391.87" y1="291" x2="391.87" y2="316.5" stroke="#eb4d5c" stroke-width="0.9" opacity="0.6"/><rect x="389.67" y="294" width="4.4" height="6.2" fill="#eb4d5c"/><line x1="397.34" y1="289.8" x2="397.34" y2="310.8" stroke="#53b987" stroke-width="0.9" opacity="0.6"/><rect x="395.14" y="298.4" width="4.4" height="3.7" fill="#53b987"/><line x1="402.81" y1="291" x2="402.81" y2="320.7" stroke="#eb4d5c" stroke-width="0.9" opacity="0.6"/><rect x="400.61" y="294.2" width="4.4" height="22.8" fill="#eb4d5c"/><line x1="408.29" y1="312" x2="408.29" y2="333" stroke="#eb4d5c" stroke-width="0.9" opacity="0.6"/><rect x="406.09" y="314.5" width="4.4" height="14.8" fill="#eb4d5c"/><line x1="413.76" y1="321.4" x2="413.76" y2="346.6" stroke="#53b987" stroke-width="0.9" opacity="0.6"/><rect x="411.56" y="327.3" width="4.4" height="13.1" fill="#53b987"/><line x1="419.23" y1="325.6" x2="419.23" y2="361" stroke="#eb4d5c" stroke-width="0.9" opacity="0.6"/><rect x="417.03" y="328.6" width="4.4" height="31.6" fill="#eb4d5c"/><line x1="424.71" y1="326.4" x2="424.71" y2="361" stroke="#53b987" stroke-width="0.9" opacity="0.6"/><rect x="422.51" y="330.6" width="4.4" height="25.4" fill="#53b987"/><line x1="430.18" y1="330" x2="430.18" y2="351" stroke="#53b987" stroke-width="0.9" opacity="0.6"/><rect x="427.98" y="336.2" width="4.4" height="12.4" fill="#53b987"/><line x1="435.65" y1="318" x2="435.65" y2="353.8" stroke="#eb4d5c" stroke-width="0.9" opacity="0.6"/><rect x="433.45" y="325.9" width="4.4" height="23.5" fill="#eb4d5c"/><line x1="441.12" y1="325" x2="441.12" y2="351.3" stroke="#53b987" stroke-width="0.9" opacity="0.6"/><rect x="438.92" y="329.6" width="4.4" height="18.5" fill="#53b987"/><line x1="446.6" y1="305.6" x2="446.6" y2="325.4" stroke="#53b987" stroke-width="0.9" opacity="0.6"/><rect x="444.4" y="308.1" width="4.4" height="15.6" fill="#53b987"/><line x1="452.07" y1="297" x2="452.07" y2="317.2" stroke="#53b987" stroke-width="0.9" opacity="0.6"/><rect x="449.87" y="303.9" width="4.4" height="2.5" fill="#53b987"/><line x1="457.54" y1="289.5" x2="457.54" y2="303.1" stroke="#eb4d5c" stroke-width="0.9" opacity="0.6"/><rect x="455.34" y="299.9" width="4.4" height="1.5" fill="#eb4d5c"/><line x1="463.02" y1="293.3" x2="463.02" y2="311.3" stroke="#eb4d5c" stroke-width="0.9" opacity="0.6"/><rect x="460.82" y="297" width="4.4" height="6.1" fill="#eb4d5c"/><line x1="468.49" y1="292" x2="468.49" y2="306.4" stroke="#eb4d5c" stroke-width="0.9" opacity="0.6"/><rect x="466.29" y="298.7" width="4.4" height="2" fill="#eb4d5c"/><line x1="473.96" y1="283" x2="473.96" y2="298.2" stroke="#53b987" stroke-width="0.9" opacity="0.6"/><rect x="471.76" y="285.8" width="4.4" height="6.2" fill="#53b987"/><line x1="479.44" y1="274.7" x2="479.44" y2="293.3" stroke="#53b987" stroke-width="0.9" opacity="0.6"/><rect x="477.24" y="279.2" width="4.4" height="7.4" fill="#53b987"/><line x1="484.91" y1="284" x2="484.91" y2="308.8" stroke="#eb4d5c" stroke-width="0.9" opacity="0.6"/><rect x="482.71" y="287.1" width="4.4" height="10.4" fill="#eb4d5c"/><line x1="490.38" y1="292" x2="490.38" y2="316.5" stroke="#eb4d5c" stroke-width="0.9" opacity="0.6"/><rect x="488.18" y="297.2" width="4.4" height="13.6" fill="#eb4d5c"/><line x1="495.85" y1="294.7" x2="495.85" y2="312" stroke="#eb4d5c" stroke-width="0.9" opacity="0.6"/><rect x="493.65" y="306.6" width="4.4" height="1.2" fill="#eb4d5c"/><line x1="501.33" y1="297" x2="501.33" y2="310.8" stroke="#eb4d5c" stroke-width="0.9" opacity="0.6"/><rect x="499.13" y="300.2" width="4.4" height="8.6" fill="#eb4d5c"/><line x1="506.8" y1="287.3" x2="506.8" y2="310" stroke="#53b987" stroke-width="0.9" opacity="0.6"/><rect x="504.6" y="290.3" width="4.4" height="19.2" fill="#53b987"/><line x1="512.27" y1="285.3" x2="512.27" y2="307" stroke="#eb4d5c" stroke-width="0.9" opacity="0.6"/><rect x="510.07" y="294.7" width="4.4" height="7.4" fill="#eb4d5c"/><line x1="517.75" y1="300" x2="517.75" y2="364" stroke="#eb4d5c" stroke-width="0.9" opacity="0.6"/><rect x="515.55" y="301.6" width="4.4" height="61.8" fill="#eb4d5c"/><line x1="523.22" y1="362.7" x2="523.22" y2="398.5" stroke="#53b987" stroke-width="0.9" opacity="0.6"/><rect x="521.02" y="370.1" width="4.4" height="19.3" fill="#53b987"/><line x1="528.69" y1="359" x2="528.69" y2="371.3" stroke="#eb4d5c" stroke-width="0.9" opacity="0.6"/><rect x="526.49" y="361.9" width="4.4" height="4" fill="#eb4d5c"/><line x1="534.17" y1="352.8" x2="534.17" y2="374" stroke="#53b987" stroke-width="0.9" opacity="0.6"/><rect x="531.97" y="359.5" width="4.4" height="13.8" fill="#53b987"/><line x1="539.64" y1="337.2" x2="539.64" y2="358.5" stroke="#53b987" stroke-width="0.9" opacity="0.6"/><rect x="537.44" y="340.9" width="4.4" height="13.6" fill="#53b987"/><line x1="545.11" y1="333.1" x2="545.11" y2="346.7" stroke="#53b987" stroke-width="0.9" opacity="0.6"/><rect x="542.91" y="343" width="4.4" height="2.5" fill="#53b987"/><line x1="550.58" y1="312.1" x2="550.58" y2="339.3" stroke="#53b987" stroke-width="0.9" opacity="0.6"/><rect x="548.38" y="317.1" width="4.4" height="16" fill="#53b987"/><line x1="556.06" y1="302.2" x2="556.06" y2="322" stroke="#53b987" stroke-width="0.9" opacity="0.6"/><rect x="553.86" y="305.2" width="4.4" height="6.9" fill="#53b987"/><line x1="561.53" y1="306" x2="561.53" y2="350.4" stroke="#eb4d5c" stroke-width="0.9" opacity="0.6"/><rect x="559.33" y="334.9" width="4.4" height="2.4" fill="#eb4d5c"/><line x1="567" y1="309" x2="567" y2="340.6" stroke="#eb4d5c" stroke-width="0.9" opacity="0.6"/><rect x="564.8" y="312.1" width="4.4" height="21" fill="#eb4d5c"/><line x1="572.48" y1="336" x2="572.48" y2="357" stroke="#eb4d5c" stroke-width="0.9" opacity="0.6"/><rect x="570.28" y="338.8" width="4.4" height="17.8" fill="#eb4d5c"/><line x1="577.95" y1="344" x2="577.95" y2="367.7" stroke="#53b987" stroke-width="0.9" opacity="0.6"/><rect x="575.75" y="346.7" width="4.4" height="14.4" fill="#53b987"/><line x1="583.42" y1="346.2" x2="583.42" y2="361.6" stroke="#eb4d5c" stroke-width="0.9" opacity="0.6"/><rect x="581.22" y="349.2" width="4.4" height="6.2" fill="#eb4d5c"/><line x1="588.9" y1="345.5" x2="588.9" y2="361.6" stroke="#53b987" stroke-width="0.9" opacity="0.6"/><rect x="586.7" y="356.6" width="4.4" height="1.5" fill="#53b987"/><line x1="594.37" y1="327" x2="594.37" y2="359.1" stroke="#eb4d5c" stroke-width="0.9" opacity="0.6"/><rect x="592.17" y="345.5" width="4.4" height="3.2" fill="#eb4d5c"/><line x1="599.84" y1="339" x2="599.84" y2="347" stroke="#53b987" stroke-width="0.9" opacity="0.6"/><rect x="597.64" y="343.3" width="4.4" height="3.2" fill="#53b987"/><line x1="605.31" y1="335.8" x2="605.31" y2="357.5" stroke="#eb4d5c" stroke-width="0.9" opacity="0.6"/><rect x="603.11" y="339" width="4.4" height="17.8" fill="#eb4d5c"/><line x1="610.79" y1="347" x2="610.79" y2="364.8" stroke="#53b987" stroke-width="0.9" opacity="0.6"/><rect x="608.59" y="352.6" width="4.4" height="8.7" fill="#53b987"/><line x1="616.26" y1="358.1" x2="616.26" y2="397" stroke="#eb4d5c" stroke-width="0.9" opacity="0.6"/><rect x="614.06" y="361" width="4.4" height="35.4" fill="#eb4d5c"/><line x1="621.73" y1="376.1" x2="621.73" y2="391" stroke="#53b987" stroke-width="0.9" opacity="0.6"/><rect x="619.53" y="382.8" width="4.4" height="5.4" fill="#53b987"/><line x1="627.21" y1="351.9" x2="627.21" y2="385" stroke="#53b987" stroke-width="0.9" opacity="0.6"/><rect x="625.01" y="368" width="4.4" height="16" fill="#53b987"/><line x1="632.68" y1="349.4" x2="632.68" y2="384" stroke="#eb4d5c" stroke-width="0.9" opacity="0.6"/><rect x="630.48" y="352.6" width="4.4" height="26" fill="#eb4d5c"/><line x1="638.15" y1="372" x2="638.15" y2="401.3" stroke="#eb4d5c" stroke-width="0.9" opacity="0.6"/><rect x="635.95" y="377.1" width="4.4" height="21.3" fill="#eb4d5c"/><line x1="643.63" y1="382.8" x2="643.63" y2="408.7" stroke="#53b987" stroke-width="0.9" opacity="0.6"/><rect x="641.43" y="391.4" width="4.4" height="16.1" fill="#53b987"/><line x1="649.1" y1="358" x2="649.1" y2="390.2" stroke="#53b987" stroke-width="0.9" opacity="0.6"/><rect x="646.9" y="361.8" width="4.4" height="23.5" fill="#53b987"/><line x1="654.57" y1="357" x2="654.57" y2="386.4" stroke="#53b987" stroke-width="0.9" opacity="0.6"/><rect x="652.37" y="360.1" width="4.4" height="13" fill="#53b987"/><line x1="660.04" y1="355.2" x2="660.04" y2="370" stroke="#eb4d5c" stroke-width="0.9" opacity="0.6"/><rect x="657.84" y="359.4" width="4.4" height="6.4" fill="#eb4d5c"/><line x1="665.52" y1="352" x2="665.52" y2="361.3" stroke="#53b987" stroke-width="0.9" opacity="0.6"/><rect x="663.32" y="354.7" width="4.4" height="4.7" fill="#53b987"/><line x1="670.99" y1="344" x2="670.99" y2="365" stroke="#53b987" stroke-width="0.9" opacity="0.6"/><rect x="668.79" y="353.4" width="4.4" height="10.9" fill="#53b987"/><line x1="676.46" y1="353.9" x2="676.46" y2="372.5" stroke="#eb4d5c" stroke-width="0.9" opacity="0.6"/><rect x="674.26" y="360.8" width="4.4" height="4.2" fill="#eb4d5c"/><line x1="681.94" y1="344" x2="681.94" y2="357.5" stroke="#53b987" stroke-width="0.9" opacity="0.6"/><rect x="679.74" y="346" width="4.4" height="10.9" fill="#53b987"/><line x1="687.41" y1="320.6" x2="687.41" y2="342" stroke="#53b987" stroke-width="0.9" opacity="0.6"/><rect x="685.21" y="326.7" width="4.4" height="14.4" fill="#53b987"/><line x1="692.88" y1="316" x2="692.88" y2="330" stroke="#eb4d5c" stroke-width="0.9" opacity="0.6"/><rect x="690.68" y="318.1" width="4.4" height="4.2" fill="#eb4d5c"/><line x1="698.36" y1="317" x2="698.36" y2="321" stroke="#eb4d5c" stroke-width="0.9" opacity="0.6"/><rect x="696.16" y="318.8" width="4.4" height="1" fill="#eb4d5c"/><line x1="703.83" y1="314.4" x2="703.83" y2="334.1" stroke="#53b987" stroke-width="0.9" opacity="0.6"/><rect x="701.63" y="318.1" width="4.4" height="5.7" fill="#53b987"/><line x1="709.3" y1="316" x2="709.3" y2="324" stroke="#53b987" stroke-width="0.9" opacity="0.6"/><rect x="707.1" y="317.4" width="4.4" height="2.9" fill="#53b987"/><line x1="714.77" y1="318" x2="714.77" y2="326.5" stroke="#eb4d5c" stroke-width="0.9" opacity="0.6"/><rect x="712.57" y="319.1" width="4.4" height="2.9" fill="#eb4d5c"/><line x1="720.25" y1="305" x2="720.25" y2="324" stroke="#53b987" stroke-width="0.9" opacity="0.6"/><rect x="718.05" y="306.7" width="4.4" height="13.6" fill="#53b987"/><line x1="725.72" y1="301.3" x2="725.72" y2="319.1" stroke="#eb4d5c" stroke-width="0.9" opacity="0.6"/><rect x="723.52" y="311.7" width="4.4" height="2" fill="#eb4d5c"/><line x1="731.19" y1="296.8" x2="731.19" y2="315" stroke="#53b987" stroke-width="0.9" opacity="0.6"/><rect x="728.99" y="300.6" width="4.4" height="13.5" fill="#53b987"/><line x1="736.67" y1="283.3" x2="736.67" y2="298" stroke="#53b987" stroke-width="0.9" opacity="0.6"/><rect x="734.47" y="293.1" width="4.4" height="4.2" fill="#53b987"/><line x1="742.14" y1="287" x2="742.14" y2="301.8" stroke="#53b987" stroke-width="0.9" opacity="0.6"/><rect x="739.94" y="288.7" width="4.4" height="9.4" fill="#53b987"/><line x1="747.61" y1="282.5" x2="747.61" y2="317.9" stroke="#eb4d5c" stroke-width="0.9" opacity="0.6"/><rect x="745.41" y="285.7" width="4.4" height="22.3" fill="#eb4d5c"/><line x1="753.09" y1="303" x2="753.09" y2="319.1" stroke="#53b987" stroke-width="0.9" opacity="0.6"/><rect x="750.89" y="308.7" width="4.4" height="1.5" fill="#53b987"/><line x1="758.56" y1="285.7" x2="758.56" y2="307.9" stroke="#53b987" stroke-width="0.9" opacity="0.6"/><rect x="756.36" y="288.2" width="4.4" height="18.5" fill="#53b987"/><line x1="764.03" y1="288.8" x2="764.03" y2="299.2" stroke="#53b987" stroke-width="0.9" opacity="0.6"/><rect x="761.83" y="293" width="4.4" height="2.5" fill="#53b987"/><line x1="769.5" y1="291" x2="769.5" y2="300" stroke="#eb4d5c" stroke-width="0.9" opacity="0.6"/><rect x="767.3" y="293" width="4.4" height="6.2" fill="#eb4d5c"/><line x1="774.98" y1="284.4" x2="774.98" y2="297.2" stroke="#53b987" stroke-width="0.9" opacity="0.6"/><rect x="772.78" y="288.8" width="4.4" height="3" fill="#53b987"/><line x1="780.45" y1="265.8" x2="780.45" y2="289.5" stroke="#53b987" stroke-width="0.9" opacity="0.6"/><rect x="778.25" y="282.6" width="4.4" height="6.2" fill="#53b987"/><line x1="785.92" y1="286.4" x2="785.92" y2="305.4" stroke="#eb4d5c" stroke-width="0.9" opacity="0.6"/><rect x="783.72" y="291.3" width="4.4" height="2" fill="#eb4d5c"/><line x1="791.4" y1="278.9" x2="791.4" y2="298" stroke="#53b987" stroke-width="0.9" opacity="0.6"/><rect x="789.2" y="287.6" width="4.4" height="9.1" fill="#53b987"/><line x1="796.87" y1="281.4" x2="796.87" y2="295.5" stroke="#eb4d5c" stroke-width="0.9" opacity="0.6"/><rect x="794.67" y="286.1" width="4.4" height="2.5" fill="#eb4d5c"/><line x1="802.34" y1="286" x2="802.34" y2="310.3" stroke="#eb4d5c" stroke-width="0.9" opacity="0.6"/><rect x="800.14" y="288.1" width="4.4" height="18.5" fill="#eb4d5c"/><line x1="807.82" y1="296" x2="807.82" y2="320.2" stroke="#53b987" stroke-width="0.9" opacity="0.6"/><rect x="805.62" y="299.2" width="4.4" height="10.4" fill="#53b987"/><line x1="813.29" y1="286.4" x2="813.29" y2="305" stroke="#53b987" stroke-width="0.9" opacity="0.6"/><rect x="811.09" y="290" width="4.4" height="14.1" fill="#53b987"/><line x1="818.76" y1="285" x2="818.76" y2="314.9" stroke="#eb4d5c" stroke-width="0.9" opacity="0.6"/><rect x="816.56" y="286.5" width="4.4" height="25.2" fill="#eb4d5c"/><line x1="824.24" y1="298.9" x2="824.24" y2="308.7" stroke="#53b987" stroke-width="0.9" opacity="0.6"/><rect x="822.03" y="302.6" width="4.4" height="3.2" fill="#53b987"/><line x1="829.71" y1="286.5" x2="829.71" y2="301.3" stroke="#53b987" stroke-width="0.9" opacity="0.6"/><rect x="827.51" y="292.7" width="4.4" height="7.4" fill="#53b987"/><line x1="835.18" y1="258.1" x2="835.18" y2="297" stroke="#53b987" stroke-width="0.9" opacity="0.6"/><rect x="832.98" y="264.8" width="4.4" height="31.6" fill="#53b987"/><line x1="840.65" y1="255.6" x2="840.65" y2="267" stroke="#eb4d5c" stroke-width="0.9" opacity="0.6"/><rect x="838.45" y="263" width="4.4" height="3" fill="#eb4d5c"/><line x1="846.13" y1="244.5" x2="846.13" y2="268.7" stroke="#53b987" stroke-width="0.9" opacity="0.6"/><rect x="843.93" y="250.2" width="4.4" height="14.6" fill="#53b987"/><line x1="851.6" y1="240.8" x2="851.6" y2="253" stroke="#eb4d5c" stroke-width="0.9" opacity="0.6"/><rect x="849.4" y="249.4" width="4.4" height="2.5" fill="#eb4d5c"/><line x1="857.07" y1="245" x2="857.07" y2="266.7" stroke="#53b987" stroke-width="0.9" opacity="0.6"/><rect x="854.87" y="248.2" width="4.4" height="4.2" fill="#53b987"/><line x1="862.55" y1="233" x2="862.55" y2="243.6" stroke="#53b987" stroke-width="0.9" opacity="0.6"/><rect x="860.35" y="234.3" width="4.4" height="6.7" fill="#53b987"/><line x1="868.02" y1="224.3" x2="868.02" y2="241" stroke="#eb4d5c" stroke-width="0.9" opacity="0.6"/><rect x="865.82" y="228.3" width="4.4" height="1.3" fill="#eb4d5c"/><line x1="873.49" y1="224.3" x2="873.49" y2="243.5" stroke="#eb4d5c" stroke-width="0.9" opacity="0.6"/><rect x="871.29" y="228.3" width="4.4" height="14.4" fill="#eb4d5c"/><line x1="878.96" y1="220.6" x2="878.96" y2="248.9" stroke="#53b987" stroke-width="0.9" opacity="0.6"/><rect x="876.76" y="223" width="4.4" height="18.6" fill="#53b987"/><line x1="884.44" y1="223.3" x2="884.44" y2="240" stroke="#eb4d5c" stroke-width="0.9" opacity="0.6"/><rect x="882.24" y="225" width="4.4" height="14.2" fill="#eb4d5c"/><line x1="889.91" y1="231" x2="889.91" y2="247" stroke="#eb4d5c" stroke-width="0.9" opacity="0.6"/><rect x="887.71" y="232" width="4.4" height="14.7" fill="#eb4d5c"/><line x1="895.38" y1="240" x2="895.38" y2="282.2" stroke="#eb4d5c" stroke-width="0.9" opacity="0.6"/><rect x="893.18" y="240.6" width="4.4" height="18.6" fill="#eb4d5c"/><line x1="900.86" y1="258.9" x2="900.86" y2="274.2" stroke="#eb4d5c" stroke-width="0.9" opacity="0.6"/><rect x="898.66" y="260.5" width="4.4" height="5.3" fill="#eb4d5c"/><line x1="906.33" y1="248.3" x2="906.33" y2="269.2" stroke="#53b987" stroke-width="0.9" opacity="0.6"/><rect x="904.13" y="267.2" width="4.4" height="1.7" fill="#53b987"/><line x1="911.8" y1="242.3" x2="911.8" y2="268.2" stroke="#53b987" stroke-width="0.9" opacity="0.6"/><rect x="909.6" y="254.9" width="4.4" height="13.1" fill="#53b987"/></g><text x="183.7" y="54" font-size="8.4" fill="#2a5caa" font-family="Liberation Sans, Arial, sans-serif">n/a</text><line x1="968.5" y1="24" x2="968.5" y2="522.7" stroke="#2c2c2c" stroke-width="1"/><line x1="2.6" y1="507.5" x2="1000" y2="507.5" stroke="#2c2c2c" stroke-width="1"/><line x1="968.5" y1="502.58" x2="971.0" y2="502.58" stroke="#444" stroke-width="1"/><text x="974" y="505.78" class="pl">11.00</text><line x1="968.5" y1="481.94" x2="971.0" y2="481.94" stroke="#444" stroke-width="1"/><text x="974" y="485.14" class="pl">12.00</text><line x1="968.5" y1="461.3" x2="971.0" y2="461.3" stroke="#444" stroke-width="1"/><text x="974" y="464.5" class="pl">13.00</text><line x1="968.5" y1="440.65" x2="971.0" y2="440.65" stroke="#444" stroke-width="1"/><text x="974" y="443.85" class="pl">14.00</text><line x1="968.5" y1="420" x2="971.0" y2="420" stroke="#444" stroke-width="1"/><text x="974" y="423.2" class="pl">15.00</text><line x1="968.5" y1="399.36" x2="971.0" y2="399.36" stroke="#444" stroke-width="1"/><text x="974" y="402.56" class="pl">16.00</text><line x1="968.5" y1="378.71" x2="971.0" y2="378.71" stroke="#444" stroke-width="1"/><text x="974" y="381.91" class="pl">17.00</text><line x1="968.5" y1="358.07" x2="971.0" y2="358.07" stroke="#444" stroke-width="1"/><text x="974" y="361.27" class="pl">18.00</text><line x1="968.5" y1="337.43" x2="971.0" y2="337.43" stroke="#444" stroke-width="1"/><text x="974" y="340.62" class="pl">19.00</text><line x1="968.5" y1="316.78" x2="971.0" y2="316.78" stroke="#444" stroke-width="1"/><text x="974" y="319.98" class="pl">20.00</text><line x1="968.5" y1="296.13" x2="971.0" y2="296.13" stroke="#444" stroke-width="1"/><text x="974" y="299.33" class="pl">21.00</text><line x1="968.5" y1="275.49" x2="971.0" y2="275.49" stroke="#444" stroke-width="1"/><text x="974" y="278.69" class="pl">22.00</text><line x1="968.5" y1="254.84" x2="971.0" y2="254.84" stroke="#444" stroke-width="1"/><text x="974" y="258.05" class="pl">23.00</text><line x1="968.5" y1="234.2" x2="971.0" y2="234.2" stroke="#444" stroke-width="1"/><text x="974" y="237.4" class="pl">24.00</text><line x1="968.5" y1="213.56" x2="971.0" y2="213.56" stroke="#444" stroke-width="1"/><text x="974" y="216.75" class="pl">25.00</text><line x1="968.5" y1="192.91" x2="971.0" y2="192.91" stroke="#444" stroke-width="1"/><text x="974" y="196.11" class="pl">26.00</text><line x1="968.5" y1="172.26" x2="971.0" y2="172.26" stroke="#444" stroke-width="1"/><text x="974" y="175.46" class="pl">27.00</text><line x1="968.5" y1="151.62" x2="971.0" y2="151.62" stroke="#444" stroke-width="1"/><text x="974" y="154.82" class="pl">28.00</text><line x1="968.5" y1="130.97" x2="971.0" y2="130.97" stroke="#444" stroke-width="1"/><text x="974" y="134.17" class="pl">29.00</text><line x1="968.5" y1="110.33" x2="971.0" y2="110.33" stroke="#444" stroke-width="1"/><text x="974" y="113.53" class="pl">30.00</text><line x1="968.5" y1="89.69" x2="971.0" y2="89.69" stroke="#444" stroke-width="1"/><text x="974" y="92.89" class="pl">31.00</text><line x1="968.5" y1="69.04" x2="971.0" y2="69.04" stroke="#444" stroke-width="1"/><text x="974" y="72.24" class="pl">32.00</text><line x1="968.5" y1="48.39" x2="971.0" y2="48.39" stroke="#444" stroke-width="1"/><text x="974" y="51.59" class="pl">33.00</text><line x1="968.5" y1="27.75" x2="971.0" y2="27.75" stroke="#444" stroke-width="1"/><text x="974" y="30.95" class="pl">34.00</text><line x1="31" y1="507.5" x2="31" y2="509.5" stroke="#444" stroke-width="1"/><text x="31" y="518.7" class="tl" text-anchor="middle">16</text><line x1="96.5" y1="507.5" x2="96.5" y2="509.5" stroke="#444" stroke-width="1"/><text x="96.5" y="518.7" class="tl" text-anchor="middle">Aug</text><line x1="167.5" y1="507.5" x2="167.5" y2="509.5" stroke="#444" stroke-width="1"/><text x="167.5" y="518.7" class="tl" text-anchor="middle">20</text><line x1="222" y1="507.5" x2="222" y2="509.5" stroke="#444" stroke-width="1"/><text x="222" y="518.7" class="tl" text-anchor="middle">Sep</text><line x1="272.5" y1="507.5" x2="272.5" y2="509.5" stroke="#444" stroke-width="1"/><text x="272.5" y="518.7" class="tl" text-anchor="middle">17</text><line x1="326.25" y1="507.5" x2="326.25" y2="509.5" stroke="#444" stroke-width="1"/><text x="326.25" y="518.7" class="tl" text-anchor="middle">Oct</text><line x1="381" y1="507.5" x2="381" y2="509.5" stroke="#444" stroke-width="1"/><text x="381" y="518.7" class="tl" text-anchor="middle">15</text><line x1="452.5" y1="507.5" x2="452.5" y2="509.5" stroke="#444" stroke-width="1"/><text x="452.5" y="518.7" class="tl" text-anchor="middle">Nov</text><line x1="518" y1="507.5" x2="518" y2="509.5" stroke="#444" stroke-width="1"/><text x="518" y="518.7" class="tl" text-anchor="middle">19</text><line x1="567.5" y1="507.5" x2="567.5" y2="509.5" stroke="#444" stroke-width="1"/><text x="567.5" y="518.7" class="tl" text-anchor="middle">Dec</text><line x1="616.8" y1="507.5" x2="616.8" y2="509.5" stroke="#444" stroke-width="1"/><text x="616.8" y="518.7" class="tl" text-anchor="middle">17</text><line x1="671.3" y1="507.5" x2="671.3" y2="509.5" stroke="#444" stroke-width="1"/><text x="671.3" y="518.7" class="tl" text-anchor="middle">2019</text><line x1="720.5" y1="507.5" x2="720.5" y2="509.5" stroke="#444" stroke-width="1"/><text x="720.5" y="518.7" class="tl" text-anchor="middle">15</text><line x1="786.25" y1="507.5" x2="786.25" y2="509.5" stroke="#444" stroke-width="1"/><text x="786.25" y="518.7" class="tl" text-anchor="middle">Feb</text><line x1="835.5" y1="507.5" x2="835.5" y2="509.5" stroke="#444" stroke-width="1"/><text x="835.5" y="518.7" class="tl" text-anchor="middle">14</text><line x1="890.5" y1="507.5" x2="890.5" y2="509.5" stroke="#444" stroke-width="1"/><text x="890.5" y="518.7" class="tl" text-anchor="middle">Mar</text><line x1="950.6" y1="507.5" x2="950.6" y2="509.5" stroke="#444" stroke-width="1"/><text x="950.6" y="518.7" class="tl" text-anchor="middle">18</text><rect x="968.5" y="250.3" width="27.6" height="10.2" fill="#53b987"/><line x1="968.5" y1="254.9" x2="971.0" y2="254.9" stroke="#fff" stroke-width="1" opacity="0.6"/><text x="974" y="257.6" class="pl" style="fill:#fff;stroke:#fff;stroke-width:0.1px">22.98</text><rect x="968.5" y="260.6" width="27.6" height="10.2" fill="#ff8c00"/><line x1="968.5" y1="265.7" x2="971.0" y2="265.7" stroke="#fff" stroke-width="1" opacity="0.6"/><text x="974" y="268" class="pl" style="fill:#fff;stroke:#fff;stroke-width:0.1px">22.66</text><rect x="968.5" y="486" width="31.5" height="10.2" fill="#22a08f"/><line x1="968.5" y1="491.1" x2="971.0" y2="491.1" stroke="#fff" stroke-width="1" opacity="0.6"/><text x="974" y="493.6" class="pl" style="fill:#fff;stroke:#fff;stroke-width:0.1px">1.128M</text><g transform="translate(983.9,515.9)" fill="none" stroke="#5d606b" stroke-width="0.9"><circle r="2.6"/><line x1="0" y1="-3.2" x2="0" y2="-4.4" transform="rotate(0)"/><line x1="0" y1="-3.2" x2="0" y2="-4.4" transform="rotate(45)"/><line x1="0" y1="-3.2" x2="0" y2="-4.4" transform="rotate(90)"/><line x1="0" y1="-3.2" x2="0" y2="-4.4" transform="rotate(135)"/><line x1="0" y1="-3.2" x2="0" y2="-4.4" transform="rotate(180)"/><line x1="0" y1="-3.2" x2="0" y2="-4.4" transform="rotate(225)"/><line x1="0" y1="-3.2" x2="0" y2="-4.4" transform="rotate(270)"/><line x1="0" y1="-3.2" x2="0" y2="-4.4" transform="rotate(315)"/></g><circle cx="912.8" cy="34.9" r="4.6" fill="none" stroke="#c8661e" stroke-width="1.2"/><line x1="912.8" y1="32.2" x2="912.8" y2="35.8" stroke="#c8661e" stroke-width="1.1"/><circle cx="912.8" cy="37.4" r="0.6" fill="#c8661e"/><circle cx="922.3" cy="35.1" r="1.8" fill="#3fa9f5"/><text x="926.6" y="37.6" font-size="7" fill="#1f76c2" font-family="Liberation Sans, sans-serif">Post Market</text>
<g id="toolbar">
<rect x="0" y="0" width="1000" height="24.3" fill="#ffffff"/>
<rect x="0" y="0" width="1000" height="1" fill="#cbcbcb"/>
<g fill="#e8eaf0">
<rect x="62.6" y="1" width="1" height="23"/><rect x="162.2" y="1" width="1" height="23"/><rect x="231.6" y="1" width="1" height="23"/>
<rect x="293.6" y="1" width="1" height="23"/><rect x="358.4" y="1" width="1" height="23"/><rect x="426.2" y="1" width="1" height="23"/>
<rect x="473.4" y="1" width="1" height="23"/><rect x="526.2" y="1" width="1" height="23"/><rect x="564" y="1" width="1" height="23"/>
<rect x="760" y="1" width="1" height="23"/><rect x="783.4" y="1" width="1" height="23"/><rect x="856.9" y="1" width="1" height="23"/>
<rect x="880.2" y="1" width="1" height="23"/><rect x="904" y="1" width="1" height="23"/>
</g>
<g font-family="Liberation Sans, Arial, sans-serif" fill="#3b3e46" stroke="#3b3e46" stroke-width="0.22">
<text x="9.8" y="14.9" font-size="8.9" textLength="16.6" lengthAdjust="spacingAndGlyphs" fill="#4a4d55" stroke="#4a4d55">ZUO</text>
<text x="69" y="15.0" font-size="8.6" textLength="11.5" lengthAdjust="spacingAndGlyphs">5m</text>
<text x="87.9" y="15.0" font-size="8.6" textLength="15.7" lengthAdjust="spacingAndGlyphs">15m</text>
<text x="111" y="15.0" font-size="8.6" textLength="8.8" lengthAdjust="spacingAndGlyphs">1h</text>
<text x="126.6" y="15.0" font-size="8.6" textLength="6.2" lengthAdjust="spacingAndGlyphs" fill="#2196f3" stroke="#2196f3">D</text>
<text x="139.2" y="15.0" font-size="8.6" textLength="7.4" lengthAdjust="spacingAndGlyphs">M</text>
<text x="253.8" y="14.9" font-size="8.7" textLength="34.4" lengthAdjust="spacingAndGlyphs">Compare</text>
<text x="315.8" y="15.0" font-size="8.7" textLength="37.8" lengthAdjust="spacingAndGlyphs">Indicators</text>
<text x="380.6" y="15.0" font-size="8.7" textLength="40.2" lengthAdjust="spacingAndGlyphs">Templates</text>
<text x="448.2" y="15.0" font-size="8.7" textLength="18.8" lengthAdjust="spacingAndGlyphs">Alert</text>
<text x="494.8" y="15.0" font-size="8.7" textLength="26.0" lengthAdjust="spacingAndGlyphs">Replay</text>
<text x="806" y="15.0" font-size="8.7" textLength="36.0" lengthAdjust="spacingAndGlyphs">Unnamed</text>
</g>
<g fill="none" stroke="#55585f" stroke-width="1" stroke-linecap="round" stroke-linejoin="round">
<!-- chevrons -->
<path d="M154.6 11.2 L156.6 13.1 L158.6 11.2" stroke="#45484f" stroke-width="1.1"/>
<path d="M224 11.2 L226 13.1 L228 11.2" stroke="#45484f" stroke-width="1.1"/>
<path d="M849 11.2 L851 13.1 L853 11.2" stroke="#45484f" stroke-width="1.1"/>
<!-- step icon -->
<path d="M169.6 14.7 h2.5 v3.6 h-2.5 z M172.1 10.6 h2.5 v3.8 h-2.5 z M175.2 6.6 h2.6 v3.6 h-2.6 z" stroke-width="0.95"/>
<!-- hollow candles -->
<path d="M206.3 8.4 h2.2 v7.6 h-2.2 z M207.4 6 v2.4 M211.2 6.6 h2.2 v4.6 h-2.2 z M212.3 5 v1.6" stroke-width="0.95"/>
<!-- compare -->
<circle cx="243.8" cy="12.3" r="5.4" stroke="#6b6e76"/>
<path d="M243.8 9.6 v5.4 M241.1 12.3 h5.4"/>
<!-- indicators wave -->
<path d="M300.6 14.1 C302 12.2 303 11 304.1 11.1 C305.5 11.2 306.3 13.6 307.7 13.5 C309.2 13.4 310.5 11.4 311.6 10.4" stroke-width="1.2"/>
<!-- templates -->
<path d="M365.4 10.2 C366.8 8.4 367.9 7.3 369 7.4 C370.3 7.6 371 9.8 372.3 9.7 C373.8 9.5 375.3 7.6 376.7 6.6" stroke-width="1.05"/>
<path d="M365.4 13.5 C366.8 11.7 367.9 10.6 369 10.7 C370.3 10.9 371 13.1 372.3 13 C373.8 12.8 375.3 10.9 376.7 9.9" stroke-width="1.05"/>
<path d="M366.2 16.6 v-1 M367.5 16.6 v-1.8 M368.8 16.6 v-2.6 M370 16.6 v-1.6 M371.3 16.6 v-0.8 M373.8 16.6 v-1.6 M375.2 16.6 v-2.4 M376.5 16.6 v-3.2" stroke-width="0.7" stroke="#8a8d94"/>
<!-- alert -->
<path d="M440.6 15.6 A4.4 4.4 0 1 1 441.9 12.6" stroke-width="1.05"/>
<path d="M433.4 9 A2.4 2.4 0 0 1 436.2 6.9 M441.8 9 A2.4 2.4 0 0 0 439 6.9" stroke-width="1.05"/>
<path d="M437.6 9.3 v3 h-1.6" stroke-width="1"/>
<path d="M441.9 13.6 v4.6 M439.6 15.9 h4.6" stroke-width="1.1"/>
<!-- replay -->
<path d="M484.5 9.3 v6 l-3.2 -3 z M489.3 9.3 v6 l-3.2 -3 z" stroke-width="0.95"/>
<!-- undo -->
<path d="M533.6 11.3 h4.9 a2.2 2.2 0 0 1 2.1 2.2 v1.2 M535.6 9.2 l-2.1 2.1 l2.1 2.1" stroke-width="1.2"/>
<!-- square -->
<rect x="767.2" y="7.6" width="10.9" height="9.7" rx="1.6" stroke="#75787f" stroke-width="1.2"/>
<!-- cloud -->
<path d="M791.3 16.5 h9.6 a2.5 2.5 0 0 0 0.3 -5 a4 4 0 0 0 -7.6 -1.3 a3.2 3.2 0 0 0 -2.3 6.3 z" stroke="#66696f" stroke-width="1.1"/>
<path d="M793.5 12.5 l1.5 1.5 l2.8 -3" stroke-width="1.1"/>
<!-- gear -->
<g transform="translate(869.2,11.9)" stroke="#5b5e66" stroke-width="1.1" stroke-linejoin="round">
<path d="M4.35 -1.16 L5.64 -0.79 L5.64 0.79 L4.35 1.16 L3.90 2.25 L4.55 3.43 L3.43 4.55 L2.25 3.90 L1.16 4.35 L0.79 5.64 L-0.79 5.64 L-1.16 4.35 L-2.25 3.90 L-3.43 4.55 L-4.55 3.43 L-3.90 2.25 L-4.35 1.16 L-5.64 0.79 L-5.64 -0.79 L-4.35 -1.16 L-3.90 -2.25 L-4.55 -3.43 L-3.43 -4.55 L-2.25 -3.90 L-1.16 -4.35 L-0.79 -5.64 L0.79 -5.64 L1.16 -4.35 L2.25 -3.90 L3.43 -4.55 L4.55 -3.43 L3.90 -2.25 Z"/>
<circle r="1.8"/>
</g>
<!-- fullscreen -->
<g stroke="#45484f" fill="#45484f" stroke-width="0.6" stroke-linejoin="round">
<path d="M887.7 7 h2.3 l-2.3 2.3 z"/><path d="M888.4 7.7 l2.6 2.6" stroke-width="1.1"/>
<path d="M898.1 7 h-2.3 l2.3 2.3 z"/><path d="M897.4 7.7 l-2.6 2.6" stroke-width="1.1"/>
<path d="M887.7 17 h2.3 l-2.3 -2.3 z"/><path d="M888.4 16.3 l2.6 -2.6" stroke-width="1.1"/>
<path d="M898.1 17 h-2.3 l2.3 -2.3 z"/><path d="M897.4 16.3 l-2.6 -2.6" stroke-width="1.1"/>
</g>
<!-- camera -->
<path d="M910.1 9.6 a1.4 1.4 0 0 1 1.4 -1.4 h1.6 l0.9 -1.5 h4.4 l0.9 1.5 h1.4 a1.4 1.4 0 0 1 1.4 1.4 v5.4 a1.4 1.4 0 0 1 -1.4 1.4 h-9.2 a1.4 1.4 0 0 1 -1.4 -1.4 z" stroke="#66696f" stroke-width="1.1"/>
<circle cx="916.1" cy="12.2" r="2.5" stroke="#66696f" stroke-width="1.1"/>
</g>
<!-- redo light -->
<path d="M557.4 11.3 h-4.9 a2.2 2.2 0 0 0 -2.1 2.2 v1.2 M555.4 9.2 l2.1 2.1 l-2.1 2.1" fill="none" stroke="#d3d6dc" stroke-width="1.2" stroke-linecap="round" stroke-linejoin="round"/>
<!-- blue candles -->
<g fill="none" stroke="#4aa3f5" stroke-width="0.95">
<path d="M187.8 8 h2.6 v8 h-2.6 z M189.1 5.9 v2.1 M189.1 16 v2"/>
<path d="M192.8 9.4 h2.6 v5.3 h-2.6 z M194.1 7.4 v2 M194.1 14.7 v1.9"/>
</g>
<!-- publish -->
<rect x="928" y="1" width="72" height="22.6" fill="#1f8ae8"/>
<rect x="976.2" y="1" width="1" height="22.6" fill="#74b6f2"/>
<rect x="928" y="23" width="72" height="0.8" fill="#5aa8ee"/>
<text x="937.8" y="15.2" font-size="8.8" textLength="28.8" lengthAdjust="spacingAndGlyphs" fill="#eef6ff" font-family="Liberation Sans, Arial, sans-serif">Publish</text>
<circle cx="988.2" cy="12.4" r="6" fill="none" stroke="#b9dcfb" stroke-width="1"/>
<path d="M986.8 9.9 L990.2 12.4 L986.8 14.9 Z" fill="#ffffff"/>
<rect x="0" y="0" width="2" height="526" fill="#d9dde7"/>
<rect x="2" y="0" width="0.7" height="526" fill="#eceef3"/>
</g>

</svg>
</body></html>
